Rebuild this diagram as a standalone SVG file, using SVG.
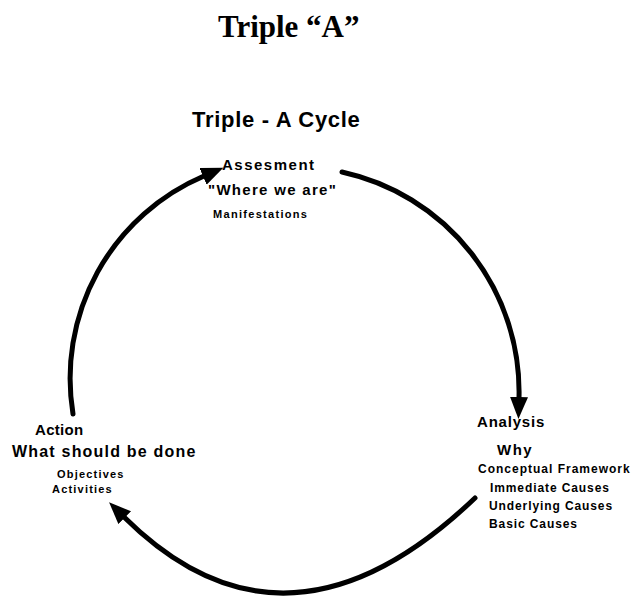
<svg xmlns="http://www.w3.org/2000/svg" width="632" height="597" viewBox="0 0 632 597">
<style>
text{font-family:"Liberation Sans",Arial,sans-serif;font-weight:bold;fill:#000}
.title{font-family:"Liberation Serif","Times New Roman",serif;font-size:31px}
.sub{font-size:22px;letter-spacing:0.7px}
.big{font-size:15px}
.small{font-size:12px;letter-spacing:0.9px}
.tiny{font-size:11px;letter-spacing:1.2px}
.arc{fill:none;stroke:#000;stroke-width:5;stroke-linecap:round}
</style>
<defs>
<marker id="ah" markerUnits="userSpaceOnUse" markerWidth="24" markerHeight="20" refX="1" refY="9" orient="auto">
<path d="M0,0 L22,9 L0,18 Z" fill="#000"/>
</marker>
</defs>
<rect width="632" height="597" fill="#fff"/>
<g id="title"><text class="title" x="218" y="37">Triple “A”</text></g>
<g id="subtitle"><text class="sub" x="192" y="127">Triple - A Cycle</text></g>
<g id="connectors">
<path class="arc" d="M73,414 A 220 220 0 0 1 204,176" marker-end="url(#ah)"/>
<path class="arc" d="M342,172 A 225 225 0 0 1 519,398" marker-end="url(#ah)"/>
<path class="arc" d="M475,498 Q286.5,678 124,517" marker-end="url(#ah)"/>
</g>
<g id="assessment">
<text class="big" x="222" y="170" style="letter-spacing:1.5px">Assesment</text>
<text class="big" x="208" y="195" style="letter-spacing:1.3px">"Where we are"</text>
<text class="tiny" x="213" y="218" style="letter-spacing:1.3px">Manifestations</text>
</g>
<g id="analysis">
<text class="big" x="477" y="427" style="letter-spacing:0.8px">Analysis</text>
<text class="big" x="497" y="455" style="letter-spacing:1.5px">Why</text>
<text class="small" x="478" y="473" style="letter-spacing:1px">Conceptual Framework</text>
<text class="small" x="490" y="492">Immediate Causes</text>
<text class="small" x="489" y="510">Underlying Causes</text>
<text class="small" x="489" y="528">Basic Causes</text>
</g>
<g id="action">
<text class="big" x="35" y="435" style="letter-spacing:0.3px">Action</text>
<text class="big" x="12" y="457" style="font-size:16px;letter-spacing:1.2px">What should be done</text>
<text class="tiny" x="57" y="478">Objectives</text>
<text class="tiny" x="52" y="493">Activities</text>
</g>
</svg>
